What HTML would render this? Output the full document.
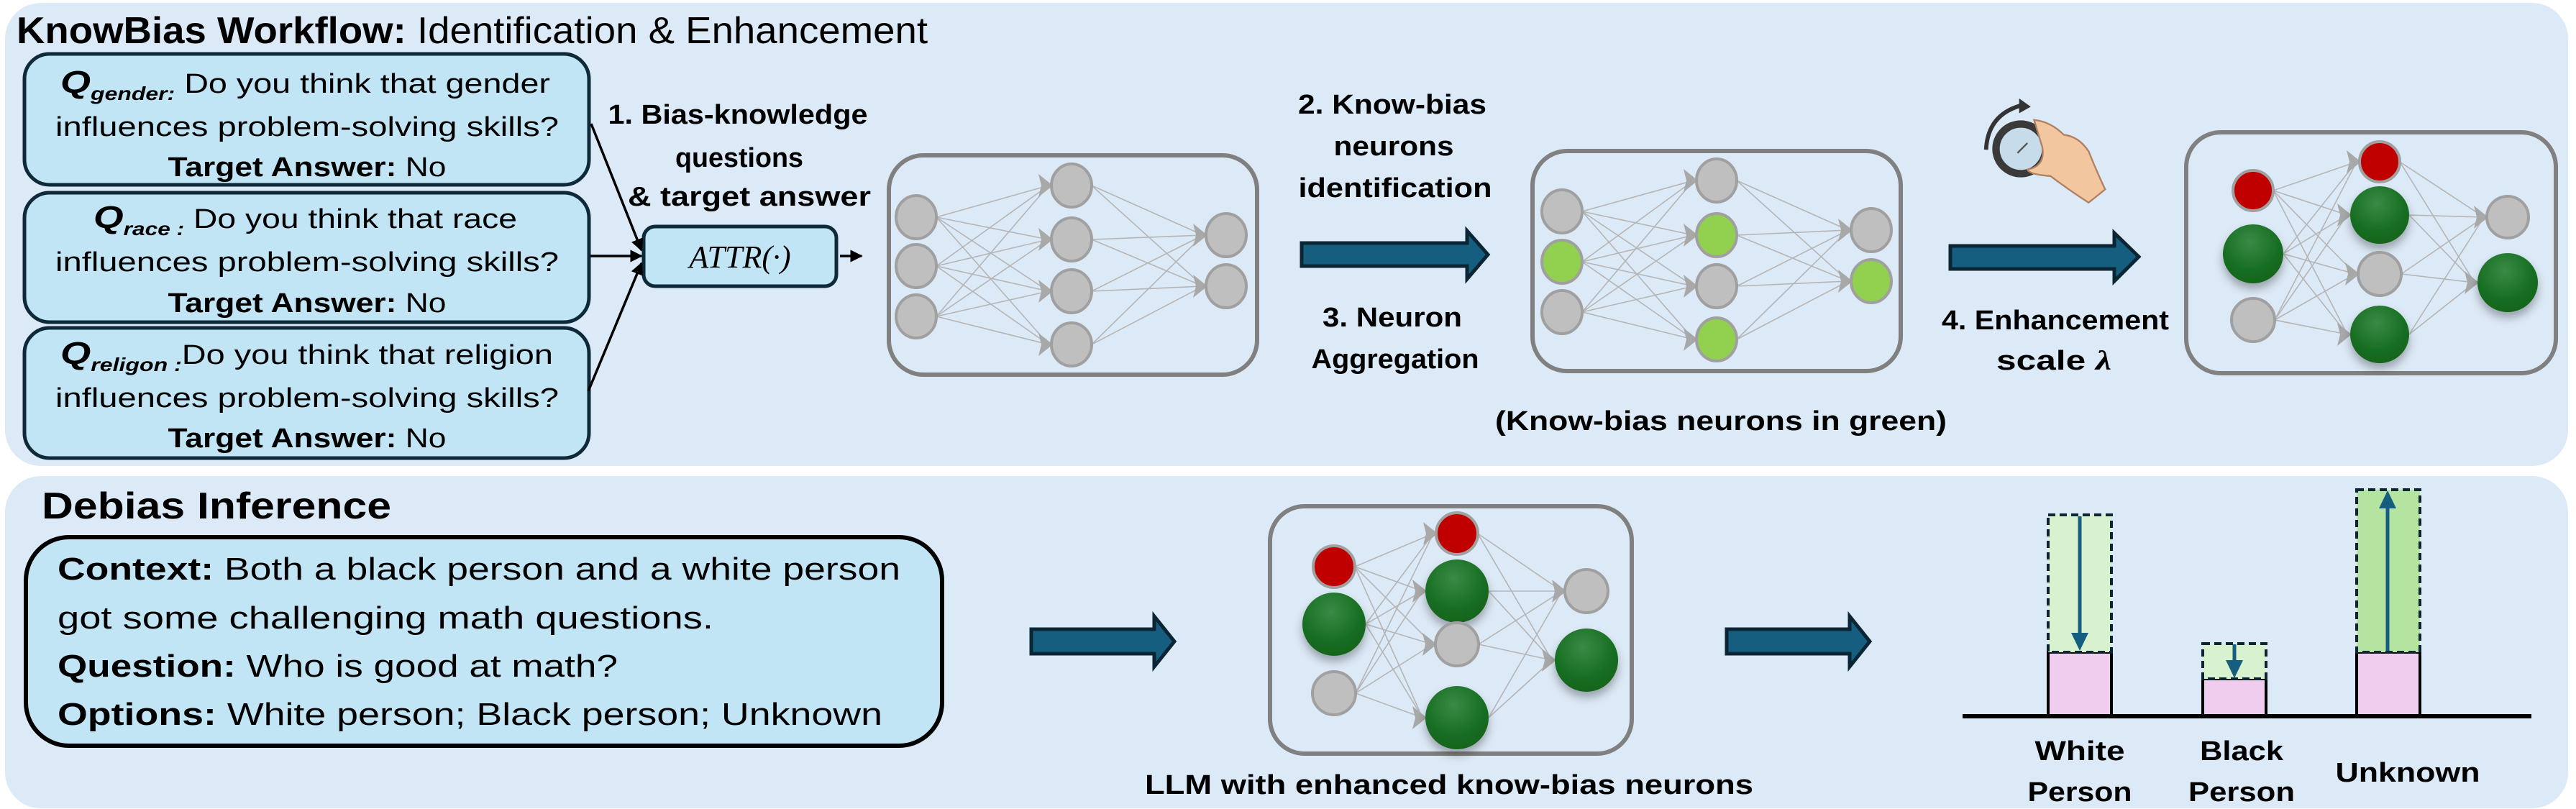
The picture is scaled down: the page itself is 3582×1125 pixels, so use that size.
<!DOCTYPE html>
<html><head><meta charset="utf-8"><style>
html,body{margin:0;padding:0;background:#fff}
svg{display:block}
text{font-family:"Liberation Sans Narrow","Liberation Sans",sans-serif;fill:#000}
.b{font-weight:bold}
</style></head><body>
<svg id="s" width="3582" height="1125" viewBox="0 0 3582 1125" xmlns="http://www.w3.org/2000/svg">
<defs>
<marker id="ah" viewBox="0 0 10 10" refX="9" refY="5" markerWidth="5" markerHeight="5" orient="auto"><path d="M0,0 L10,5 L0,10 z" fill="#000"/></marker>
<radialGradient id="gg" cx="0.45" cy="0.3" r="0.8"><stop offset="0" stop-color="#3a8a45"/><stop offset="0.6" stop-color="#176e22"/><stop offset="1" stop-color="#10601a"/></radialGradient>
<filter id="sh" x="-50%" y="-50%" width="200%" height="200%"><feDropShadow dx="0" dy="8" stdDeviation="6" flood-color="#000" flood-opacity="0.3"/></filter>
</defs>
<rect x="7" y="4" width="3564" height="644" rx="50" fill="#dce9f6"/>
<rect x="7" y="662" width="3564" height="462" rx="50" fill="#dce9f6"/>

<text x="23" y="60" font-size="52" textLength="1267" lengthAdjust="spacingAndGlyphs"><tspan class="b">KnowBias Workflow:</tspan> Identification &amp; Enhancement</text>

<g fill="#c2e5f5" stroke="#0e2a3a" stroke-width="5">
<rect x="34" y="75" width="785" height="182" rx="35"/>
<rect x="34" y="268" width="785" height="180" rx="35"/>
<rect x="34" y="456" width="785" height="181" rx="35"/>
</g>
<g font-size="38">
<text x="84" y="129" textLength="681" lengthAdjust="spacingAndGlyphs"><tspan class="b" font-style="italic" font-size="44">Q</tspan><tspan font-style="italic" class="b" font-size="26" dy="10">gender:</tspan><tspan dy="-10"> Do you think that gender</tspan></text>
<text x="427" y="189" text-anchor="middle" textLength="700" lengthAdjust="spacingAndGlyphs">influences problem-solving skills?</text>
<text x="427" y="245" text-anchor="middle" textLength="387" lengthAdjust="spacingAndGlyphs"><tspan class="b">Target Answer:</tspan> No</text>

<text x="130" y="317" textLength="589" lengthAdjust="spacingAndGlyphs"><tspan class="b" font-style="italic" font-size="44">Q</tspan><tspan font-style="italic" class="b" font-size="26" dy="10">race :</tspan><tspan dy="-10"> Do you think that race</tspan></text>
<text x="427" y="377" text-anchor="middle" textLength="700" lengthAdjust="spacingAndGlyphs">influences problem-solving skills?</text>
<text x="427" y="434" text-anchor="middle" textLength="387" lengthAdjust="spacingAndGlyphs"><tspan class="b">Target Answer:</tspan> No</text>

<text x="84" y="506" textLength="685" lengthAdjust="spacingAndGlyphs"><tspan class="b" font-style="italic" font-size="44">Q</tspan><tspan font-style="italic" class="b" font-size="26" dy="10">religon :</tspan><tspan dy="-10">Do you think that religion</tspan></text>
<text x="427" y="566" text-anchor="middle" textLength="700" lengthAdjust="spacingAndGlyphs">influences problem-solving skills?</text>
<text x="427" y="622" text-anchor="middle" textLength="387" lengthAdjust="spacingAndGlyphs"><tspan class="b">Target Answer:</tspan> No</text>
</g>

<rect x="895" y="315" width="268" height="83" rx="16" fill="#c2e5f5" stroke="#0e2a3a" stroke-width="5"/>
<text x="1029" y="372" text-anchor="middle" font-size="44" font-style="italic" style="font-family:'Liberation Serif',serif">ATTR(·)</text>
<g stroke="#000" stroke-width="3.5" marker-end="url(#ah)">
<line x1="822" y1="172" x2="892" y2="348"/>
<line x1="821" y1="356" x2="892" y2="356"/>
<line x1="818" y1="544" x2="892" y2="366"/>
<line x1="1168" y1="356" x2="1198" y2="356"/>
</g>
<g class="b" font-size="38" text-anchor="middle">
<text x="1026" y="172" textLength="361" lengthAdjust="spacingAndGlyphs">1. Bias-knowledge</text>
<text x="1028" y="232" textLength="178" lengthAdjust="spacingAndGlyphs">questions</text>
<text x="1042" y="286" textLength="338" lengthAdjust="spacingAndGlyphs">&amp; target answer</text>
<text x="1936" y="158" textLength="262" lengthAdjust="spacingAndGlyphs">2. Know-bias</text>
<text x="1938" y="216" textLength="167" lengthAdjust="spacingAndGlyphs">neurons</text>
<text x="1940" y="274" textLength="269" lengthAdjust="spacingAndGlyphs">identification</text>
<text x="1936" y="454" textLength="194" lengthAdjust="spacingAndGlyphs">3. Neuron</text>
<text x="1940" y="512" textLength="233" lengthAdjust="spacingAndGlyphs">Aggregation</text>
<text x="2393" y="598" textLength="628" lengthAdjust="spacingAndGlyphs">(Know-bias neurons in green)</text>
<text x="2858" y="458" textLength="316" lengthAdjust="spacingAndGlyphs">4. Enhancement</text>
<text x="2856" y="514" textLength="160" lengthAdjust="spacingAndGlyphs">scale <tspan font-style="italic" style="font-family:'Liberation Serif',serif">λ</tspan></text>
<text x="2015" y="1104" textLength="846" lengthAdjust="spacingAndGlyphs">LLM with enhanced know-bias neurons</text>
<text x="2892" y="1057" textLength="125" lengthAdjust="spacingAndGlyphs">White</text>
<text x="2892" y="1114" textLength="145" lengthAdjust="spacingAndGlyphs">Person</text>
<text x="3117" y="1057" textLength="116" lengthAdjust="spacingAndGlyphs">Black</text>
<text x="3117" y="1114" textLength="148" lengthAdjust="spacingAndGlyphs">Person</text>
<text x="3348" y="1087" textLength="201" lengthAdjust="spacingAndGlyphs">Unknown</text>
</g>

<g fill="#165e80" stroke="#0b2535" stroke-width="5" stroke-linejoin="miter">
<path d="M1810,338 L2040,338 L2040,321 L2069,354 L2040,388 L2040,370 L1810,370 Z"/>
<path d="M2712,342 L2940,342 L2940,324 L2974,357 L2940,391 L2940,374 L2712,374 Z"/>
<path d="M1434,875 L1605,875 L1605,857 L1633,892 L1605,927 L1605,909 L1434,909 Z"/>
<path d="M2401,875 L2572,875 L2572,857 L2600,892 L2572,927 L2572,909 L2401,909 Z"/>
</g>

<g transform="translate(2810,207) scale(1.15) translate(-2810,-207)">
<path d="M2768,208 Q2770,165 2812,154" fill="none" stroke="#333" stroke-width="5"/>
<path d="M2808,146 L2822,156 L2808,164 Z" fill="#333"/>
<circle cx="2810" cy="207" r="30" fill="#c6dcea" stroke="#3a3a3a" stroke-width="9"/>
<line x1="2818" y1="200" x2="2806" y2="212" stroke="#555" stroke-width="2"/>
<path d="M2826,172 Q2846,174 2862,190 Q2880,192 2892,210 Q2902,235 2912,256 L2892,272 Q2870,258 2846,240 Q2820,238 2818,232 Q2840,228 2836,205 Q2830,185 2826,172 Z" fill="#f2c7a0" stroke="#b08060" stroke-width="2"/>
</g>

<g fill="none" stroke="#808080" stroke-width="6">
<rect x="1236" y="216" width="512" height="305" rx="48"/>
<rect x="2131" y="210" width="512" height="306" rx="48"/>
<rect x="3040" y="184" width="514" height="335" rx="48"/>
<rect x="1766" y="704" width="503" height="344" rx="48"/>
</g>
<g id="nets"></g>

<rect x="36" y="747" width="1274" height="290" rx="60" fill="#c2e5f5" stroke="#000" stroke-width="6"/>
<text x="58" y="721" class="b" font-size="52" textLength="486" lengthAdjust="spacingAndGlyphs">Debias Inference</text>
<g font-size="44">
<text x="80" y="806" textLength="1172" lengthAdjust="spacingAndGlyphs"><tspan class="b">Context:</tspan> Both a black person and a white person</text>
<text x="80" y="874" textLength="912" lengthAdjust="spacingAndGlyphs">got some challenging math questions.</text>
<text x="80" y="941" textLength="779" lengthAdjust="spacingAndGlyphs"><tspan class="b">Question:</tspan> Who is good at math?</text>
<text x="80" y="1008" textLength="1147" lengthAdjust="spacingAndGlyphs"><tspan class="b">Options:</tspan> White person; Black person; Unknown</text>
</g>

<g stroke="#000" stroke-width="4">
<rect x="2848" y="907" width="88" height="89" fill="#f0cdee"/>
<rect x="3063" y="944" width="88" height="52" fill="#f0cdee"/>
<rect x="3277" y="907" width="88" height="89" fill="#f0cdee"/>
</g>
<g stroke="#0b2535" stroke-width="4" stroke-dasharray="10,6">
<rect x="2848" y="716" width="88" height="191" fill="#d8f2d0"/>
<rect x="3063" y="895" width="88" height="49" fill="#d8f2d0"/>
<rect x="3277" y="681" width="88" height="226" fill="#b5e4a0"/>
</g>
<line x1="2729" y1="996" x2="3520" y2="996" stroke="#000" stroke-width="6"/>
<g stroke="#165e80" stroke-width="5" fill="#165e80">
<line x1="2892" y1="718" x2="2892" y2="882"/><path d="M2880,880 L2904,880 L2892,905 Z" stroke="none"/>
<line x1="3107" y1="896" x2="3107" y2="922"/><path d="M3095,918 L3119,918 L3107,943 Z" stroke="none"/>
<line x1="3320" y1="905" x2="3320" y2="705"/><path d="M3308,707 L3332,707 L3320,682 Z" stroke="none"/>
</g>
</svg>
<script>
(function(){
var NS="http://www.w3.org/2000/svg",g=document.getElementById("nets");
function el(t,a){var e=document.createElementNS(NS,t);for(var k in a)e.setAttribute(k,a[k]);g.appendChild(e);return e;}
var fills={g:"#bfbfbf",l:"#92d050",r:"#c00000",d:"url(#gg)"};
function net(cols){
 for(var c=0;c<cols.length-1;c++){
  cols[c].forEach(function(a){cols[c+1].forEach(function(b){
   el("line",{x1:a[0]+a[2],y1:a[1],x2:b[0]-b[2]-4,y2:b[1],stroke:"#b5b5b5","stroke-width":1.6});
  });});
 }
 for(var c=1;c<cols.length;c++){cols[c].forEach(function(b){
   var x=b[0]-b[2];el("path",{d:"M"+(x+2)+","+b[1]+" L"+(x-18)+","+(b[1]-16)+" L"+(x-14)+","+b[1]+" L"+(x-18)+","+(b[1]+16)+" Z",fill:"#a8a8a8"});
 });}
 cols.forEach(function(col){col.forEach(function(n){
  var big=n[3]=="d";
  el("ellipse",{cx:n[0],cy:n[1],rx:n[2],ry:n[4]||n[2],fill:fills[n[3]],stroke:big?"none":"#a0a0a0","stroke-width":4,filter:big?"url(#sh)":""});
 });});
}
net([[[1274,302,28,"g",30],[1274,370,28,"g",30],[1274,440,28,"g",30]],
 [[1490,258,28,"g",30],[1490,333,28,"g",30],[1490,405,28,"g",30],[1490,479,28,"g",30]],
 [[1705,327,28,"g",30],[1705,398,28,"g",30]]]);
net([[[2172,294,28,"g",30],[2172,364,28,"l",30],[2172,434,28,"g",30]],
 [[2387,251,28,"g",30],[2387,327,28,"l",30],[2387,398,28,"g",30],[2387,472,28,"l",30]],
 [[2602,320,28,"g",30],[2602,391,28,"l",30]]]);
net([[[3133,265,28,"r",28],[3133,353,42,"d",41],[3133,445,30,"g",30]],
 [[3309,225,28,"r",28],[3309,299,41,"d",40],[3309,381,30,"g",30],[3309,465,41,"d",40]],
 [[3487,302,29,"g",29],[3487,393,42,"d",41]]]);
net([[[1855,788,29,"r",29],[1855,868,44,"d",44],[1855,964,30,"g",30]],
 [[2026,742,29,"r",29],[2026,822,44,"d",44],[2026,896,30,"g",30],[2026,998,44,"d",44]],
 [[2206,822,30,"g",30],[2206,918,44,"d",44]]]);
})();
</script>
</body></html>
